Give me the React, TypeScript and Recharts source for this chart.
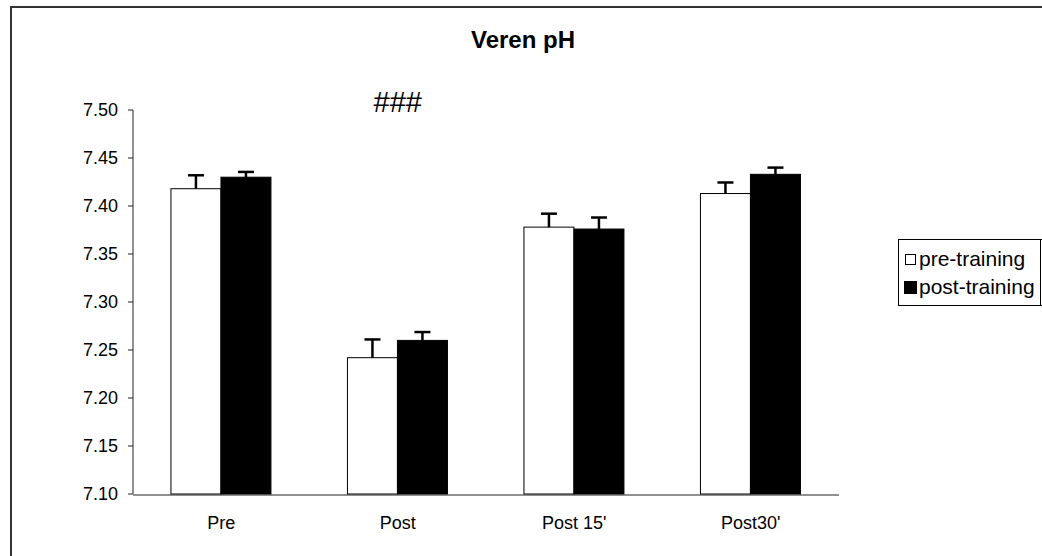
import { BarChart, Bar, XAxis, YAxis, ReferenceDot } from 'recharts'

const categories = ['Pre', 'Post', "Post 15'", "Post30'"]
const preTraining = [7.418, 7.242, 7.378, 7.413]
const postTraining = [7.43, 7.26, 7.376, 7.433]
const preTrainingErr = [0.014, 0.019, 0.014, 0.0115]
const postTrainingErr = [0.0055, 0.0087, 0.012, 0.007]
const yTicks = [7.1, 7.15, 7.2, 7.25, 7.3, 7.35, 7.4, 7.45, 7.5]
const categoryEdges = [0, 1, 2, 3, 4]
const seriesNames = ['pre-training', 'post-training']
const marker = { category: 'Post', text: '###' }

const FONT = '"Liberation Sans", Arial, sans-serif'
const Y_MIN = yTicks[0]
const Y_MAX = yTicks[yTicks.length - 1]

const data = categories.map((name, i) => ({
  name,
  pre: preTraining[i],
  post: postTraining[i],
  preErr: preTrainingErr[i],
  postErr: postTrainingErr[i],
}))

const SERIES = [
  { key: 'pre', err: 'preErr', name: seriesNames[0], fill: '#ffffff' },
  { key: 'post', err: 'postErr', name: seriesNames[1], fill: '#000000' },
]

// bar with an upper-only error whisker (Excel style "plus" error bar).
// pixel length of the whisker comes from the bar's own height / value ratio
function barWithPlusError(valueKey: string, errKey: string, fill: string) {
  return (props: any) => {
    const { x, y, width, height, payload } = props
    if (!payload || height == null) return <g />
    const v = payload[valueKey]
    const pxPerUnit = height / (v - Y_MIN)
    const errPx = payload[errKey] * pxPerUnit
    const cx = x + width / 2
    const top = y - errPx
    return (
      <g>
        <rect x={x} y={y} width={width} height={height} fill={fill} stroke="#000" strokeWidth={1} />
        <line x1={cx} x2={cx} y1={y} y2={top} stroke="#000" strokeWidth={2.5} />
        <line x1={cx - 8} x2={cx + 8} y1={top} y2={top} stroke="#000" strokeWidth={2.5} />
      </g>
    )
  }
}

export default function App() {
  return (
    <div
      style={{
        position: 'absolute',
        left: 0,
        top: 0,
        width: 1042,
        height: 556,
        overflow: 'hidden',
        background: '#fff',
        fontFamily: FONT,
      }}
    >
      {/* outer chart frame, cut off at right and bottom like the source */}
      <div
        style={{
          position: 'absolute',
          left: 10,
          top: 6,
          width: 1060,
          height: 580,
          border: '2px solid #333',
          boxSizing: 'border-box',
        }}
      />

      <div
        style={{
          position: 'absolute',
          left: 0,
          width: 1046,
          top: 26,
          textAlign: 'center',
          fontSize: 24,
          fontWeight: 'bold',
        }}
      >
        Veren pH
      </div>

      <BarChart
        width={1042}
        height={556}
        data={data}
        margin={{ top: 110, right: 203, bottom: 60, left: 73 }}
        barCategoryGap="21.5%"
        barGap={0}
        style={{ position: 'absolute', left: 0, top: 0 }}
      >
        <XAxis
          xAxisId="edges"
          type="number"
          domain={[0, 4]}
          ticks={categoryEdges}
          tick={false}
          height={1}
          tickSize={6}
          stroke="#222"
          allowDataOverflow
        />
        <XAxis
          xAxisId="cats"
          dataKey="name"
          height={1}
          axisLine={false}
          tickLine={false}
          tickSize={6}
          tickMargin={16}
          tick={{ fill: '#000', fontSize: 18, fontFamily: FONT }}
        />
        <YAxis
          domain={[Y_MIN, Y_MAX]}
          ticks={yTicks}
          width={60}
          tickSize={5}
          tickMargin={10}
          stroke="#222"
          tickFormatter={(v: number) => v.toFixed(2)}
          tick={{ fill: '#000', fontSize: 18, fontFamily: FONT }}
        />
        {SERIES.map((s) => (
          <Bar
            key={s.key}
            xAxisId="cats"
            dataKey={s.key}
            name={s.name}
            fill={s.fill}
            stroke="#000"
            isAnimationActive={false}
            shape={barWithPlusError(s.key, s.err, s.fill)}
          />
        ))}
        <ReferenceDot
          xAxisId="cats"
          x={marker.category}
          y={Y_MAX}
          r={0}
          fill="none"
          stroke="none"
          ifOverflow="visible"
          label={(props: any) => {
            const vb = props.viewBox || {}
            return (
              <text
                x={(vb.x ?? 0) + (vb.width ?? 0) / 2}
                y={(vb.y ?? 0) + 2}
                textAnchor="middle"
                fontSize={29}
                fontFamily={FONT}
                fill="#000"
              >
                {marker.text}
              </text>
            )
          }}
        />
      </BarChart>

      {/* legend */}
      <div
        style={{
          position: 'absolute',
          left: 898,
          top: 239,
          width: 150,
          height: 67,
          borderTop: '1px solid #000',
          borderLeft: '1px solid #000',
          borderBottom: '1px solid #000',
          boxSizing: 'border-box',
          paddingTop: 5,
          paddingLeft: 5,
        }}
      >
        {SERIES.map((s, i) => (
          <div
            key={s.key}
            style={{ display: 'flex', alignItems: 'center', height: 28, fontSize: 21, whiteSpace: 'nowrap' }}
          >
            <span
              style={{
                display: 'inline-block',
                width: i === 0 ? 9 : 11,
                height: i === 0 ? 9 : 11,
                background: s.fill,
                border: '1px solid #000',
                marginLeft: i === 0 ? 1 : 0,
                marginRight: i === 0 ? 3 : 2,
              }}
            />
            {s.name}
          </div>
        ))}
      </div>
      <div
        style={{
          position: 'absolute',
          left: 1040,
          top: 239,
          width: 1,
          height: 67,
          background: '#000',
        }}
      />
    </div>
  )
}
